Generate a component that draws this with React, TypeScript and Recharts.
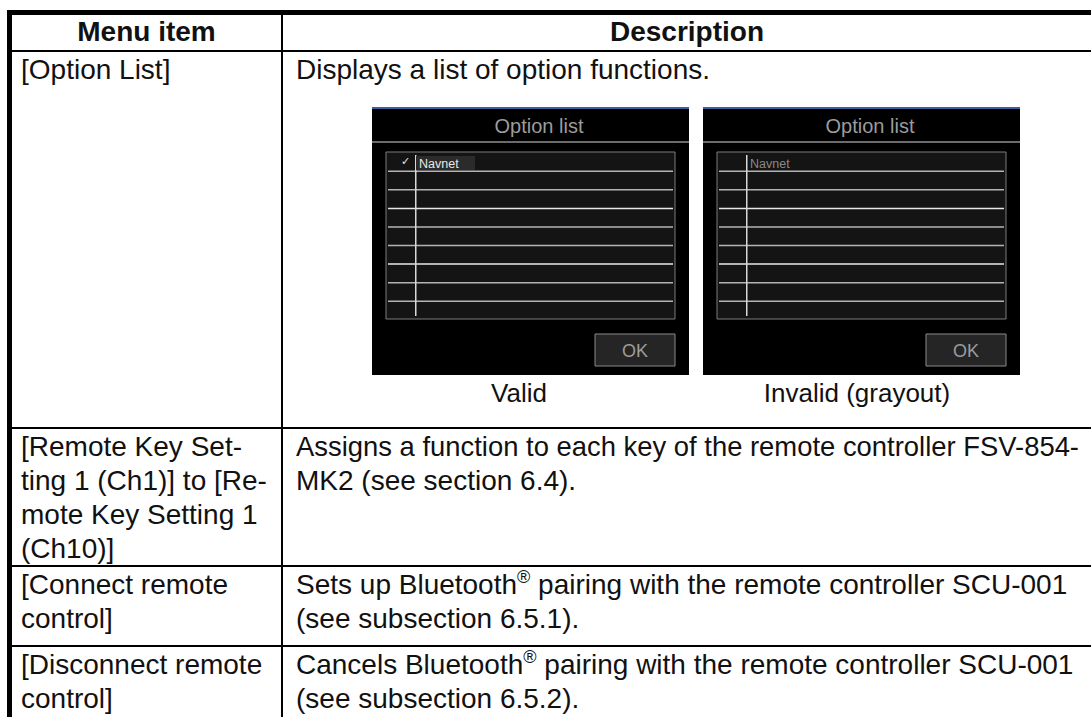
import React from "react"
import { Surface, Layer, Rectangle } from "recharts"

const W = 1091
const H = 717

const headers = ["Menu item", "Description"]

const menuItems = [
  ["[Option List]"],
  ["[Remote Key Set-", "ting 1 (Ch1)] to [Re-", "mote Key Setting 1", "(Ch10)]"],
  ["[Connect remote", "control]"],
  ["[Disconnect remote", "control]"],
]

const descriptions = [
  ["Displays a list of option functions."],
  ["Assigns a function to each key of the remote controller FSV-854-", "MK2 (see section 6.4)."],
  ["Sets up Bluetooth® pairing with the remote controller SCU-001", "(see subsection 6.5.1)."],
  ["Cancels Bluetooth® pairing with the remote controller SCU-001", "(see subsection 6.5.2)."],
]

const panelTitles = ["Option list", "Option list"]
const panelCaptions = ["Valid", "Invalid (grayout)"]
const listItems = ["Navnet", "", "", "", "", "", "", "", ""]

// table geometry
const TOP = 10
const LEFT = 7
const COL = 281
const ROW_TOPS = [52, 429, 567, 647]
const SEPARATORS = [50, 427, 565, 645]
const LINE_H = 34
const FONT = "'Liberation Sans', Arial, sans-serif"
const NARROW = "'Liberation Sans Narrow', 'Liberation Sans', Arial, sans-serif"
// the long hyphenated line is set a bit tighter in the original
const FIT: Record<string, number> = { "1-0": 783 }

function TextLine({ text, x, y, anchor = "start", weight = 400, size = 28, fit }: any) {
  const parts = text.split("®")
  return (
    <text
      x={x}
      y={y}
      textAnchor={anchor}
      fontFamily={FONT}
      fontSize={size}
      fontWeight={weight}
      fill="#111"
      textLength={fit}
      lengthAdjust={fit ? "spacingAndGlyphs" : undefined}
    >
      {parts.map((p: string, i: number) => (
        <React.Fragment key={i}>
          <tspan dy={i > 0 ? 11 : 0}>{p}</tspan>
          {i < parts.length - 1 && (
            <tspan dy={-11} fontSize={18}>
              ®
            </tspan>
          )}
        </React.Fragment>
      ))}
    </text>
  )
}

function Panel({ x0, title, caption, captionX, active }: any) {
  const top = 107
  const boxX = x0 + 14
  const boxY = 152
  const boxW = 289
  const boxH = 167
  const rowH = boxH / listItems.length
  return (
    <Layer>
      <Rectangle x={x0} y={top} width={317} height={268} fill="#000" />
      <Rectangle x={x0} y={top} width={317} height={2} fill="#3f5f9c" />
      <text x={x0 + 167} y={133} textAnchor="middle" fontFamily={NARROW} fontSize={20} fill="#9c9c9c">
        {title}
      </text>
      <Rectangle x={x0} y={141} width={317} height={2} fill="#6c6c6c" />
      <Rectangle x={boxX} y={boxY} width={boxW} height={boxH} fill="#141414" stroke="#7c7c7c" strokeWidth={1} />
      {listItems.slice(1).map((_, i) => (
        <Rectangle
          key={i}
          x={boxX + 2}
          y={boxY + rowH * (i + 1)}
          width={boxW - 4}
          height={1.5}
          fill={i % 3 === 2 ? "#e8e8e8" : "#b4b4b4"}
        />
      ))}
      <Rectangle x={x0 + 43} y={boxY + 3} width={1.5} height={boxH - 6} fill="#d8d8d8" />
      {active && <Rectangle x={x0 + 44} y={156} width={59} height={14} fill="#2b2b2b" />}
      {active && (
        <text x={x0 + 29} y={165} fontFamily={FONT} fontSize={11} fill="#e6e6e6">
          ✓
        </text>
      )}
      <text x={x0 + 47} y={168} fontFamily={FONT} fontSize={12.5} fill={active ? "#e8e8e8" : "#8a8a8a"}>
        {listItems[0]}
      </text>
      <Rectangle x={x0 + 223} y={334} width={80} height={32} fill="#252525" stroke="#8a8a8a" strokeWidth={1} />
      <text x={x0 + 263} y={357} textAnchor="middle" fontFamily={FONT} fontSize={18} fill="#9c9c9c">
        OK
      </text>
      <TextLine text={caption} x={captionX} y={402} anchor="middle" size={26} />
    </Layer>
  )
}

export default function App() {
  return (
    <div style={{ position: "absolute", left: 0, top: 0, width: W, height: H, overflow: "hidden", background: "#fff" }}>
      <Surface width={W} height={H} viewBox={{ x: 0, y: 0, width: W, height: H }}>
        {/* borders */}
        <Rectangle x={LEFT} y={TOP} width={W - LEFT} height={5} fill="#000" />
        <Rectangle x={LEFT} y={TOP} width={5} height={H - TOP} fill="#000" />
        <Rectangle x={COL} y={TOP} width={2} height={H - TOP} fill="#000" />
        {SEPARATORS.map((y) => (
          <Rectangle key={y} x={LEFT} y={y} width={W - LEFT} height={2} fill="#000" />
        ))}

        {/* header */}
        <TextLine text={headers[0]} x={(12 + COL) / 2} y={41} anchor="middle" weight={700} />
        <TextLine text={headers[1]} x={(COL + 2 + W) / 2} y={41} anchor="middle" weight={700} />

        {/* rows */}
        {menuItems.map((lines, r) =>
          lines.map((t, i) => (
            <TextLine key={`m${r}-${i}`} text={t} x={21} y={ROW_TOPS[r] + 27 + i * LINE_H} />
          ))
        )}
        {descriptions.map((lines, r) =>
          lines.map((t, i) => (
            <TextLine
              key={`d${r}-${i}`}
              text={t}
              x={296}
              y={ROW_TOPS[r] + 27 + i * LINE_H}
              fit={FIT[`${r}-${i}`]}
            />
          ))
        )}

        <Panel x0={372} title={panelTitles[0]} caption={panelCaptions[0]} captionX={519} active />
        <Panel x0={703} title={panelTitles[1]} caption={panelCaptions[1]} captionX={857} active={false} />
      </Surface>
    </div>
  )
}
